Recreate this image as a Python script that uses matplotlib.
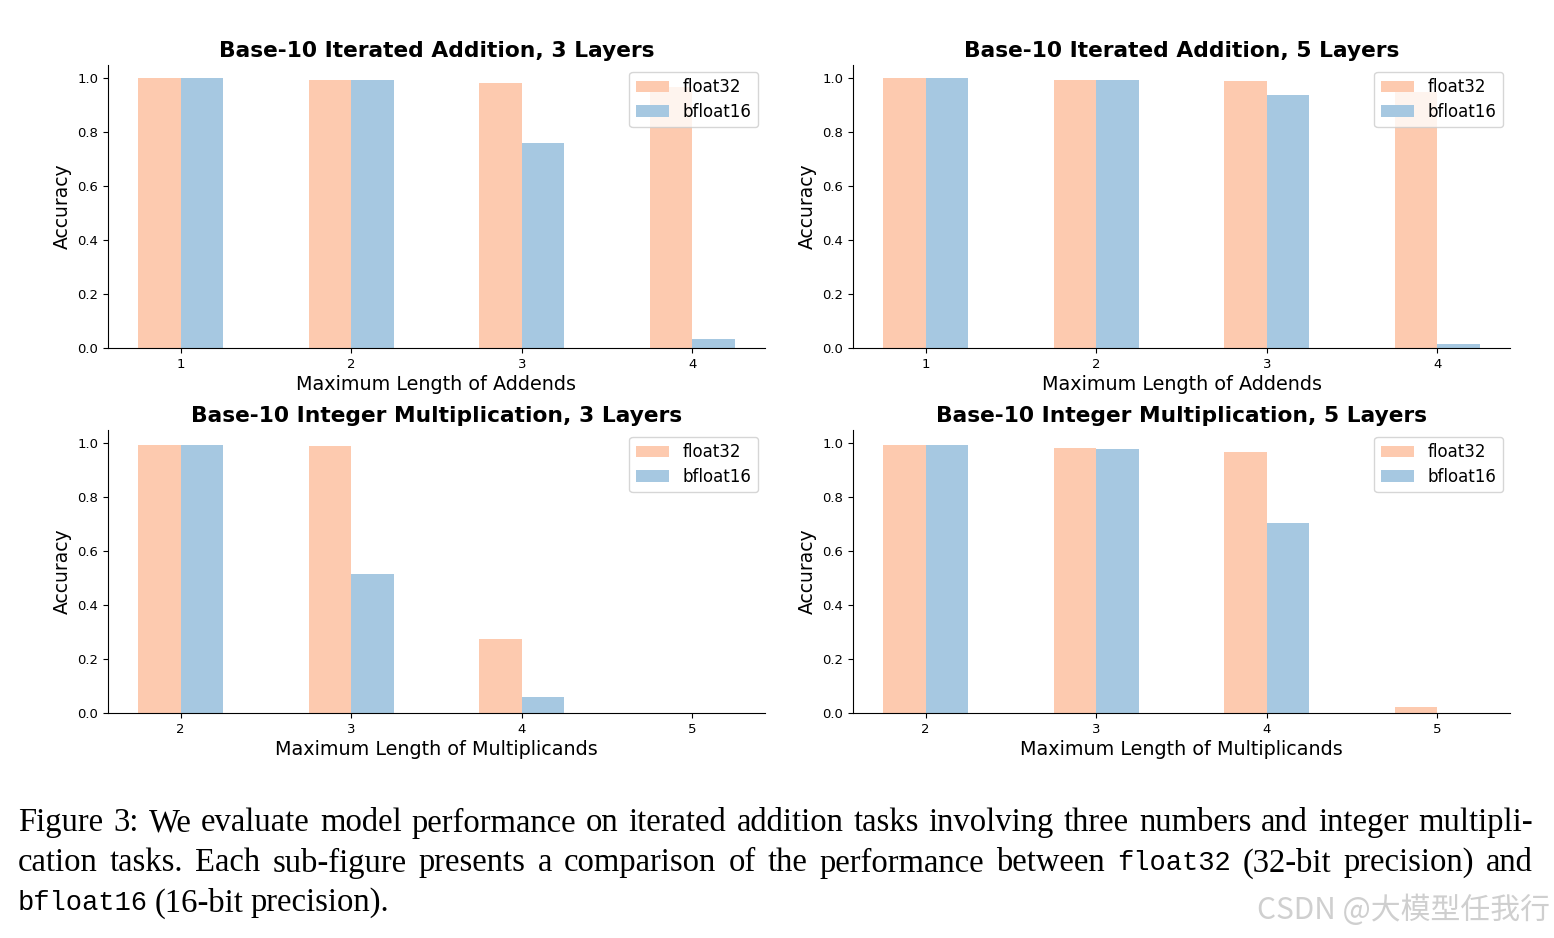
import numpy as np
import matplotlib
matplotlib.use("Agg")
import matplotlib.pyplot as plt

# values
add_lengths = [1, 2, 3, 4]
add3_f32 = [1.0, 0.993, 0.985, 0.97]
add3_bf16 = [1.0, 0.993, 0.76, 0.033]
add5_f32 = [1.0, 0.993, 0.989, 0.95]
add5_bf16 = [1.0, 0.993, 0.937, 0.015]

mul_lengths = [2, 3, 4, 5]
mul3_f32 = [0.996, 0.989, 0.274, 0.0]
mul3_bf16 = [0.996, 0.515, 0.059, 0.0]
mul5_f32 = [0.996, 0.985, 0.967, 0.022]
mul5_bf16 = [0.996, 0.981, 0.704, 0.0]

titles = ["Base-10 Iterated Addition, 3 Layers", "Base-10 Iterated Addition, 5 Layers",
          "Base-10 Integer Multiplication, 3 Layers", "Base-10 Integer Multiplication, 5 Layers"]
xlabels = ["Maximum Length of Addends", "Maximum Length of Addends",
           "Maximum Length of Multiplicands", "Maximum Length of Multiplicands"]

C_F32 = "#fdcaaf"
C_BF16 = "#a6c8e1"

fig = plt.figure(figsize=(15.54, 9.38), dpi=100)

W, H = 1554, 938
boxes = [(108, 65, 765, 348), (853, 65, 1510, 348),
         (108, 430, 765, 713), (853, 430, 1510, 713)]
panels = [(add_lengths, add3_f32, add3_bf16), (add_lengths, add5_f32, add5_bf16),
          (mul_lengths, mul3_f32, mul3_bf16), (mul_lengths, mul5_f32, mul5_bf16)]

width = 0.25
for i, ((x0, y0, x1, y1), (cats, f32, bf16)) in enumerate(zip(boxes, panels)):
    ax = fig.add_axes([x0 / W, 1 - y1 / H, (x1 - x0) / W, (y1 - y0) / H])
    x = np.arange(len(cats)) + 1
    ax.bar(x - width / 2, f32, width, color=C_F32, label="float32")
    ax.bar(x + width / 2, bf16, width, color=C_BF16, label="bfloat16")
    ax.set_xticks(x)
    ax.set_xticklabels([str(c) for c in cats], fontsize=9.5)
    ax.set_ylim(0, 1.05)
    ax.set_yticks([0.0, 0.2, 0.4, 0.6, 0.8, 1.0])
    ax.tick_params(axis="y", labelsize=9.5)
    ax.spines["top"].set_visible(False)
    ax.spines["right"].set_visible(False)
    ax.set_ylabel("Accuracy", fontsize=13.5)
    ax.set_xlabel(xlabels[i], fontsize=13.8, labelpad=3)
    ax.set_title(titles[i], fontsize=15.7, fontweight="bold", pad=6)
    ax.legend(loc="upper right", fontsize=12, labelspacing=0.38, borderaxespad=0.4)

# caption, justified line by line
serif = "Liberation Serif"
mono = "Liberation Mono"
cap_size = 23.5
mono_size = 19.5
lines = [
    [("Figure 3: We evaluate model performance on iterated addition tasks involving three numbers and integer multipli-", serif)],
    [("cation tasks. Each sub-figure presents a comparison of the performance between", serif),
     ("float32", mono), ("(32-bit precision) and", serif)],
    [("bfloat16", mono), ("(16-bit precision).", serif)],
]
line_y = [823, 863, 903]
justify = [True, True, False]

renderer = fig.canvas.get_renderer()
left_px, right_px = 18, 1533
for segs, yy, just in zip(lines, line_y, justify):
    words = []
    for txt, fam in segs:
        for w in txt.split(" "):
            words.append((w, fam))
    arts = []
    for w, fam in words:
        size = mono_size if fam == mono else cap_size
        t = fig.text(0, 1 - yy / H, w, fontsize=size, family=fam, va="center", ha="left")
        arts.append(t)
    widths = [a.get_window_extent(renderer).width for a in arts]
    if just:
        gap = (right_px - left_px - sum(widths)) / (len(arts) - 1)
    else:
        gap = 7
    xp = left_px
    for a, wd in zip(arts, widths):
        a.set_x(xp / W)
        xp += wd + gap

fig.text(1550 / W, 1 - 910 / H, "CSDN @大模型任我行", fontsize=21.5, color="#cfcfcf",
         ha="right", va="center", family=["Noto Sans CJK SC", "DejaVu Sans"])

fig.savefig("out.png", dpi=100)
